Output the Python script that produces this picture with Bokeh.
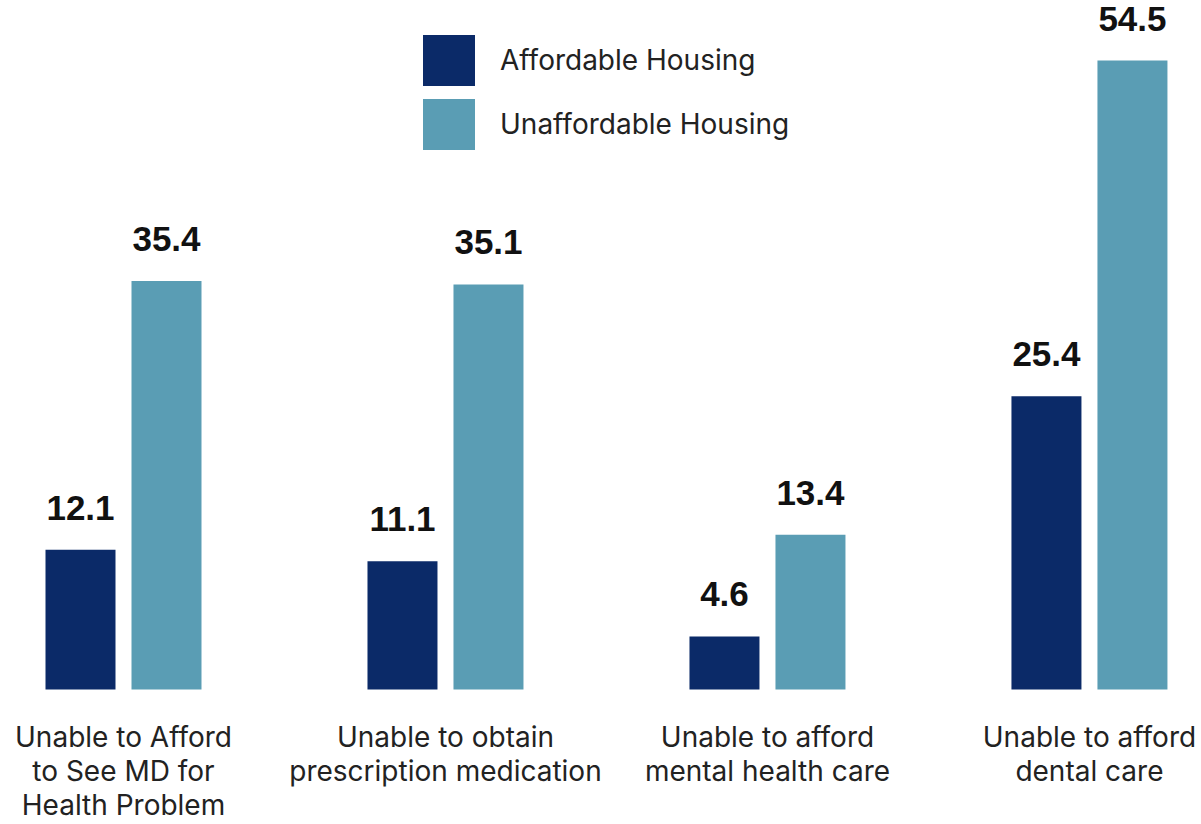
from bokeh.plotting import figure
from bokeh.models import ColumnDataSource, Range1d, Legend, LegendItem
from bokeh.core.properties import value
from bokeh.transform import dodge
from bokeh.embed import file_html
from bokeh.resources import INLINE

categories = [
    "Unable to Afford\nto See MD for\nHealth Problem",
    "Unable to obtain\nprescription medication",
    "Unable to afford\nmental health care",
    "Unable to afford\ndental care",
]
affordable = [12.1, 11.1, 4.6, 25.4]
unaffordable = [35.4, 35.1, 13.4, 54.5]
series_names = ["Affordable Housing", "Unaffordable Housing"]
colors = ["#0B2A68", "#5A9DB4"]

idx = list(range(len(categories)))
src = ColumnDataSource(dict(
    x=idx,
    cat=categories,
    a=affordable,
    u=unaffordable,
    a_lbl=[f"{v:.1f}" for v in affordable],
    u_lbl=[f"{v:.1f}" for v in unaffordable],
    zero=[0] * len(idx),
))

p = figure(width=1201, height=824, output_backend="svg", toolbar_location=None,
           x_range=Range1d(-0.382, 3.348), y_range=Range1d(-11.7, 59.7),
           min_border=0)
p.axis.visible = False
p.grid.visible = False
p.outline_line_color = None
p.background_fill_color = "white"
p.border_fill_color = "white"

off = 43 / 322
bw = 70 / 322
r1 = p.vbar(x=dodge("x", -off), top="a", width=bw, source=src, fill_color=colors[0], line_color=None)
r2 = p.vbar(x=dodge("x", off), top="u", width=bw, source=src, fill_color=colors[1], line_color=None)

for xs, col in ((-off, "a"), (off, "u")):
    p.text(x=dodge("x", xs), y=col, text=col + "_lbl", source=src, text_align="center",
           text_baseline="alphabetic", y_offset=-42, text_font=value("Liberation Sans"),
           text_font_style="bold", text_font_size="35px", text_color="#111111")

p.text(x="x", y="zero", text="cat", source=src, text_align="center",
       text_baseline="top", y_offset=31, text_font=value("Inter"),
       text_font_size="28px", text_color="#222222", text_line_height=1.0)

legend = Legend(items=[LegendItem(label=series_names[0], renderers=[r1]),
                       LegendItem(label=series_names[1], renderers=[r2])],
                location=(416, 668), glyph_width=65, glyph_height=64, spacing=0,
                padding=0, margin=0, label_standoff=19, border_line_color=None,
                background_fill_alpha=0, label_text_font="Inter",
                label_text_font_size="28px", label_text_color="#222222")
p.add_layout(legend, "center")

open("out.html", "w").write(file_html(p, INLINE))
